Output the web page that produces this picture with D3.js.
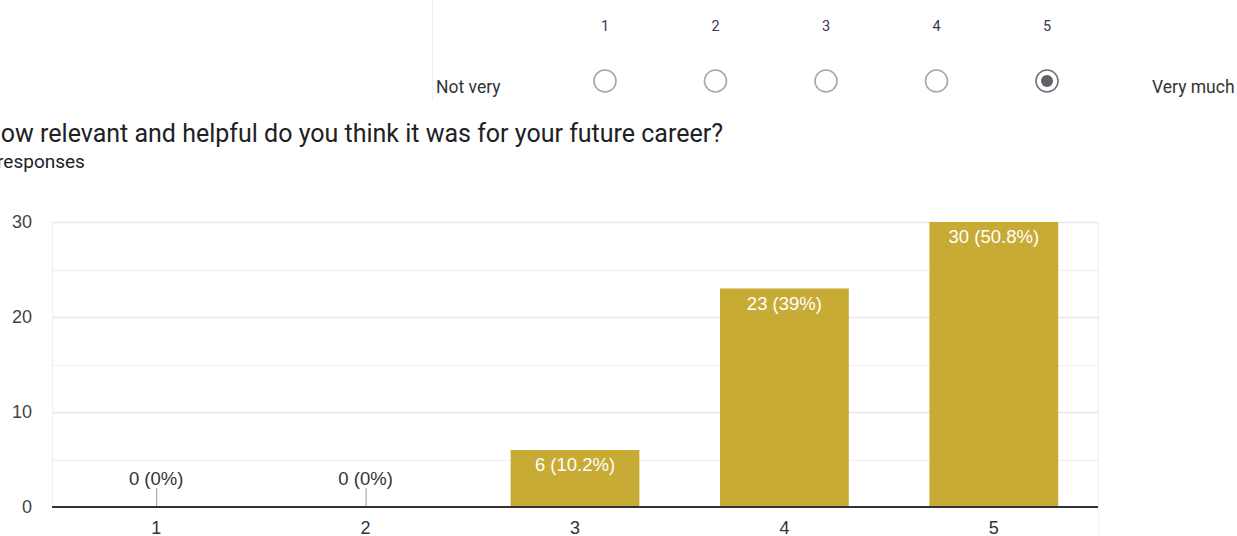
<!DOCTYPE html>
<html>
<head>
<meta charset="utf-8">
<script src="https://cdn.jsdelivr.net/npm/d3@7"></script>
<style>
  body { margin: 0; background: #fff; overflow: hidden; }
  svg { display: block; font-family: Roboto, Arial, sans-serif; }
</style>
</head>
<body>
<svg id="chart" width="1237" height="536"></svg>
<script>
// scale options shown above the chart
const scaleOptions = ['1', '2', '3', '4', '5'];
const selectedOption = '5';
const lowLabel = 'Not very';
const highLabel = 'Very much';

// chart data
const categories = ['1', '2', '3', '4', '5'];
const counts = [0, 0, 6, 23, 30];
const percents = ['0%', '0%', '10.2%', '39%', '50.8%'];
const yTicks = [0, 10, 20, 30];
const title = 'How relevant and helpful do you think it was for your future career?';
const subtitle = '59 responses';

const chartFont = '"Liberation Sans", Arial, sans-serif';

const svg = d3.select('#chart');

// ---------- linear scale header (radio row)
const optX = d3.scalePoint().domain(scaleOptions).range([605, 1047]);

svg.append('line')
  .attr('x1', 432.5).attr('x2', 432.5).attr('y1', 0).attr('y2', 100)
  .attr('stroke', '#f0f0f0');

svg.selectAll('text.opt')
  .data(scaleOptions)
  .enter()
  .append('text')
  .classed('opt', true)
  .attr('x', d => optX(d))
  .attr('y', 31)
  .attr('text-anchor', 'middle')
  .style('font-size', '14.5px')
  .style('fill', '#3d3550')
  .text(d => d);

svg.selectAll('circle.radio')
  .data(scaleOptions)
  .enter()
  .append('circle')
  .classed('radio', true)
  .attr('cx', d => optX(d))
  .attr('cy', 81)
  .attr('r', 11)
  .attr('fill', '#fff')
  .attr('stroke', d => d === selectedOption ? '#6f7378' : '#a4a8ad')
  .attr('stroke-width', 1.6);

svg.append('circle')
  .attr('cx', optX(selectedOption))
  .attr('cy', 81)
  .attr('r', 6)
  .attr('fill', '#5f6368');

svg.append('text')
  .attr('x', 436).attr('y', 93)
  .style('font-size', '17.5px').style('fill', '#333')
  .text(lowLabel);

svg.append('text')
  .attr('x', 1152).attr('y', 93)
  .style('font-size', '17.5px').style('fill', '#333')
  .text(highLabel);

// ---------- title (clipped at the left edge, as in the screenshot)
svg.append('text')
  .attr('x', -17).attr('y', 142)
  .style('font-size', '25px').style('fill', '#202124')
  .text(title);

svg.append('text')
  .attr('x', -29).attr('y', 168)
  .style('font-size', '19px').style('fill', '#202124')
  .text(subtitle);

// ---------- bar chart
const margin = { left: 52, right: 1098, top: 222, bottom: 507 };

const x = d3.scaleBand()
  .domain(categories)
  .range([margin.left, margin.right])
  .paddingInner(0.385)
  .paddingOuter(0.19);

const y = d3.scaleLinear()
  .domain([0, 30])
  .range([margin.bottom, margin.top]);

// gridlines (major + minor)
const grid = svg.append('g').classed('grid', true);
grid.selectAll('line')
  .data(d3.range(5, 31, 5))
  .enter()
  .append('line')
  .attr('x1', margin.left).attr('x2', margin.right)
  .attr('y1', d => Math.round(y(d)) + 0.5)
  .attr('y2', d => Math.round(y(d)) + 0.5)
  .attr('stroke', d => d % 10 === 0 ? '#e6e6e6' : '#f2f2f2')
  .attr('stroke-width', 1.5);

// plot frame sides
[margin.left, margin.right].forEach(xx => {
  svg.append('line')
    .attr('x1', xx + 0.5).attr('x2', xx + 0.5)
    .attr('y1', margin.top).attr('y2', margin.bottom)
    .attr('stroke', '#efefef');
});
svg.append('line')
  .attr('x1', margin.right + 0.5).attr('x2', margin.right + 0.5)
  .attr('y1', margin.bottom).attr('y2', 536)
  .attr('stroke', '#f5f5f5');

// y axis labels
const yAxis = svg.append('g')
  .attr('transform', `translate(${margin.left - 20},0)`)
  .call(d3.axisLeft(y).tickValues(yTicks).tickSize(0).tickPadding(0));
yAxis.select('.domain').remove();
yAxis.selectAll('text')
  .style('font-size', '18px')
  .style('fill', '#444')
  .style('font-family', chartFont);

// bars
const data = categories.map((c, i) => ({ cat: c, n: counts[i], pct: percents[i] }));

svg.selectAll('rect.bar')
  .data(data.filter(d => d.n > 0))
  .enter()
  .append('rect')
  .classed('bar', true)
  .attr('x', d => x(d.cat))
  .attr('y', d => y(d.n))
  .attr('width', x.bandwidth())
  .attr('height', d => y(0) - y(d.n))
  .attr('fill', '#c8ab34');

// value labels
svg.selectAll('text.val')
  .data(data)
  .enter()
  .append('text')
  .classed('val', true)
  .attr('x', d => x(d.cat) + x.bandwidth() / 2)
  .attr('y', d => d.n > 0 ? y(d.n) + 21 : y(0) - 22)
  .attr('text-anchor', 'middle')
  .style('font-size', '18.5px')
  .style('font-family', chartFont)
  .style('fill', d => d.n > 0 ? '#fff' : '#333')
  .text(d => `${d.n} (${d.pct})`);

// small leader ticks for zero bars
svg.selectAll('line.zero')
  .data(data.filter(d => d.n === 0))
  .enter()
  .append('line')
  .classed('zero', true)
  .attr('x1', d => x(d.cat) + x.bandwidth() / 2 + 0.5)
  .attr('x2', d => x(d.cat) + x.bandwidth() / 2 + 0.5)
  .attr('y1', y(0) - 19)
  .attr('y2', y(0))
  .attr('stroke', '#999');

// x axis baseline
svg.append('line')
  .attr('x1', margin.left).attr('x2', margin.right)
  .attr('y1', y(0)).attr('y2', y(0))
  .attr('stroke', '#333').attr('stroke-width', 2);

// x labels
const xAxis = svg.append('g')
  .attr('transform', `translate(0,${y(0)})`)
  .call(d3.axisBottom(x).tickSize(0).tickPadding(14));
xAxis.select('.domain').remove();
xAxis.selectAll('text')
  .style('font-size', '18px')
  .style('fill', '#333')
  .style('font-family', chartFont);
</script>
</body>
</html>
